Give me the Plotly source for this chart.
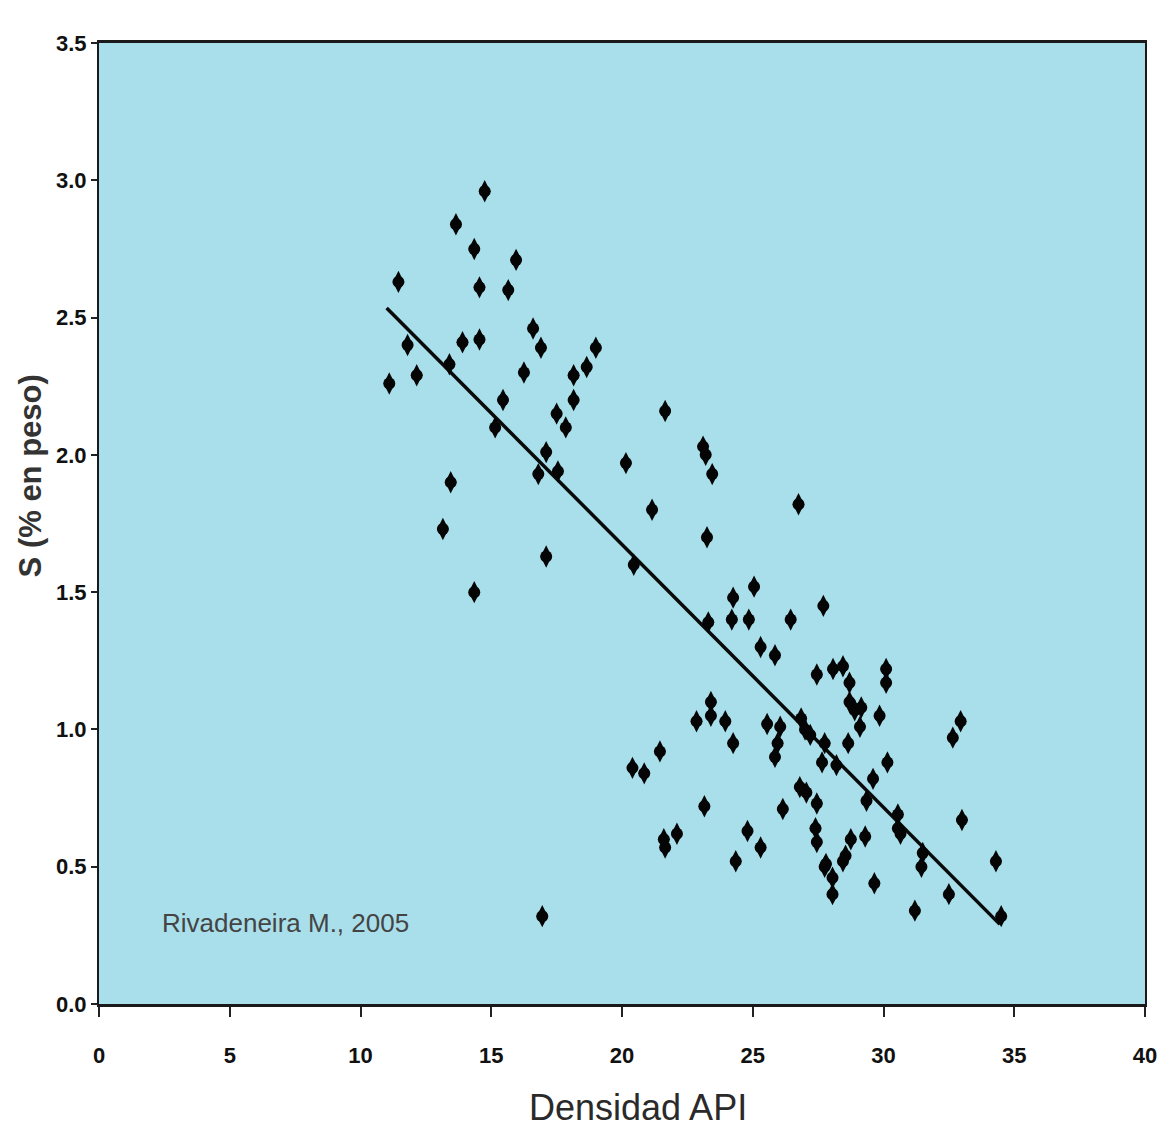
import plotly.graph_objects as go

# Densidad API (x) and S % en peso (y)
api = [
    11.1, 11.45, 11.8, 12.15, 13.4, 13.15, 13.45, 13.65, 13.9, 14.35,
    14.55, 14.55, 14.35, 14.75, 15.15, 15.45, 15.65, 15.95, 16.25, 16.6,
    16.9, 16.8, 17.1, 17.1, 17.55, 17.5, 17.85, 18.15, 18.15, 18.65,
    19.0, 16.95, 20.15, 20.45, 21.15, 21.65, 23.1, 23.2, 23.45, 23.25,
    23.3, 24.25, 24.2, 24.85, 25.05, 25.3, 25.85, 26.45, 27.7, 26.75,
    27.45, 28.07, 28.45, 28.7, 28.7, 28.9, 23.4, 23.4, 22.85, 23.95,
    24.25, 25.55, 26.05, 25.95, 25.85, 26.85, 27.0, 27.2, 27.75, 28.65,
    27.65, 28.2, 21.45, 20.4, 20.85, 23.15, 26.15, 26.8, 27.05, 27.45,
    27.4, 27.45, 21.6, 21.65, 22.1, 24.8, 25.3, 24.35, 28.75, 28.55,
    28.45, 27.75, 28.05, 28.05, 30.1, 30.1, 29.15, 29.1, 29.85, 30.15,
    29.6, 29.35, 32.65, 32.95, 33.0, 30.55, 30.65, 31.5, 31.45, 32.5,
    34.3, 34.5, 31.2, 29.65, 29.3, 27.8, 30.55,
]
azufre = [
    2.26, 2.63, 2.40, 2.29, 2.33, 1.73, 1.90, 2.84, 2.41, 2.75,
    2.61, 2.42, 1.50, 2.96, 2.10, 2.20, 2.60, 2.71, 2.30, 2.46,
    2.39, 1.93, 2.01, 1.63, 1.94, 2.15, 2.10, 2.29, 2.20, 2.32,
    2.39, 0.32, 1.97, 1.60, 1.80, 2.16, 2.03, 2.00, 1.93, 1.70,
    1.39, 1.48, 1.40, 1.40, 1.52, 1.30, 1.27, 1.40, 1.45, 1.82,
    1.20, 1.22, 1.23, 1.17, 1.10, 1.07, 1.10, 1.05, 1.03, 1.03,
    0.95, 1.02, 1.01, 0.95, 0.90, 1.04, 1.00, 0.98, 0.95, 0.95,
    0.88, 0.87, 0.92, 0.86, 0.84, 0.72, 0.71, 0.79, 0.77, 0.73,
    0.64, 0.59, 0.60, 0.57, 0.62, 0.63, 0.57, 0.52, 0.60, 0.54,
    0.52, 0.50, 0.46, 0.40, 1.22, 1.17, 1.08, 1.01, 1.05, 0.88,
    0.82, 0.74, 0.97, 1.03, 0.67, 0.69, 0.62, 0.55, 0.50, 0.40,
    0.52, 0.32, 0.34, 0.44, 0.61, 0.51, 0.64,
]

# Regression line end points
trend_x = [11.0, 34.45]
trend_y = [2.535, 0.29]

x_ticks = [0, 5, 10, 15, 20, 25, 30, 35, 40]
y_ticks = [0.0, 0.5, 1.0, 1.5, 2.0, 2.5, 3.0, 3.5]
y_tick_labels = ["0.0", "0.5", "1.0", "1.5", "2.0", "2.5", "3.0", "3.5"]

tick_font = dict(family="Liberation Sans, Arial", size=22, color="#111111", weight="bold")

fig = go.Figure()
fig.add_trace(go.Scatter(
    x=trend_x, y=trend_y, mode="lines",
    line=dict(color="#0a0a0a", width=3.5), showlegend=False, hoverinfo="skip"))
# marker body: rounded diamond = circle + tall diamond
fig.add_trace(go.Scatter(
    x=api, y=azufre, mode="markers",
    marker=dict(symbol="circle", size=12, color="#050505", line=dict(width=0)),
    showlegend=False, hoverinfo="skip"))
fig.add_trace(go.Scatter(
    x=api, y=azufre, mode="markers",
    marker=dict(symbol="diamond-tall", size=16, color="#050505", line=dict(width=0)),
    showlegend=False))

fig.update_layout(
    width=1169, height=1142,
    margin=dict(l=99, r=21, t=43, b=138),
    paper_bgcolor="white",
    plot_bgcolor="#A9DFEA",
    showlegend=False,
    annotations=[
        dict(text="Rivadeneira M., 2005", x=2.35, y=0.295, xref="x", yref="y",
             xanchor="left", yanchor="middle", showarrow=False,
             font=dict(family="Liberation Sans, Arial", size=26, color="#444444")),
        dict(text="Densidad API", x=0.515, y=-0.108, xref="paper", yref="paper",
             xanchor="center", yanchor="middle", showarrow=False,
             font=dict(family="Liberation Sans, Arial", size=36, color="#2a2a2a")),
        dict(text="S (% en peso)", x=-0.066, y=0.55, xref="paper", yref="paper",
             xanchor="center", yanchor="middle", showarrow=False, textangle=-90,
             font=dict(family="Liberation Sans, Arial", size=31, color="#333333", weight="bold")),
    ],
)

fig.update_xaxes(
    range=[0, 40], tickvals=x_ticks, ticktext=[str(v) for v in x_ticks],
    ticks="outside", ticklen=10, tickwidth=2, tickcolor="#222222",
    ticklabelstandoff=20,
    showline=True, linewidth=3, linecolor="#1a1a1a", mirror=True,
    showgrid=False, zeroline=False, tickfont=tick_font)
fig.update_yaxes(
    range=[0, 3.5], tickvals=y_ticks, ticktext=y_tick_labels,
    ticks="outside", ticklen=6, tickwidth=2, tickcolor="#222222",
    showline=True, linewidth=2, linecolor="#1a1a1a", mirror=True,
    showgrid=False, zeroline=False, tickfont=tick_font)

fig.write_html("out.html")
